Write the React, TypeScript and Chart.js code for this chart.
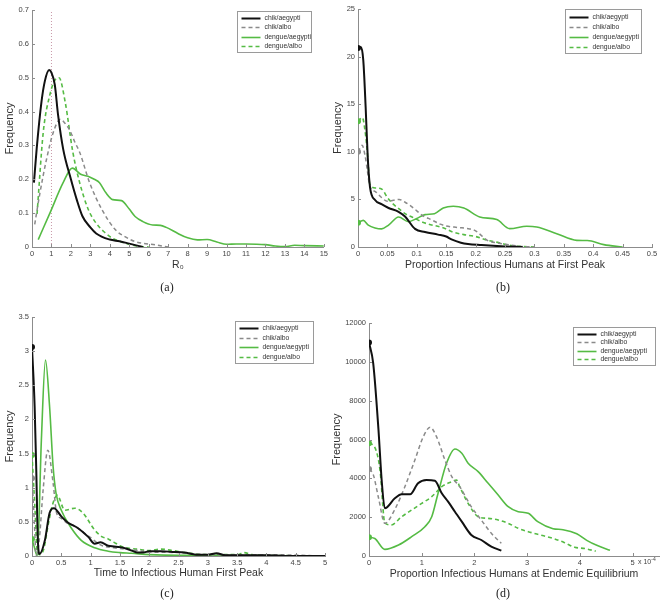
import React, { useEffect, useRef } from 'react';
import { Chart, registerables } from 'chart.js';
Chart.register(...registerables);

type P = [number, number][];

const SERIES_NAMES = ['chik/aegypti', 'chik/albo', 'dengue/aegypti', 'dengue/albo'];
const COLORS = ['#111111', '#8a8a8a', '#55bb44', '#55bb44'];
const WIDTHS = [2, 1.5, 1.6, 1.6];
const DASHES: number[][] = [[], [4, 3], [], [4, 3]];

// (a) R0
const A_CHIK_AEGYPTI: P = [[0.1, 0.19], [0.24, 0.29], [0.49, 0.43], [0.66, 0.49], [0.88, 0.523], [1.0, 0.515], [1.17, 0.48], [1.34, 0.39], [1.6, 0.29], [2.0, 0.2], [2.3, 0.14], [2.6, 0.09], [3.0, 0.058], [3.3, 0.04], [4.0, 0.022], [4.5, 0.017], [5.0, 0.01], [5.7, 0.0]];
const A_CHIK_ALBO: P = [[0.14, 0.067], [0.41, 0.16], [0.75, 0.26], [1.1, 0.34], [1.46, 0.377], [1.7, 0.365], [1.94, 0.345], [2.2, 0.31], [2.45, 0.28], [2.96, 0.19], [3.6, 0.11], [4.3, 0.05], [4.8, 0.03], [5.3, 0.016], [6.4, 0.006], [7.0, 0.0]];
const A_DENGUE_AEGYPTI: P = [[0.32, 0.022], [0.92, 0.1], [1.6, 0.19], [2.07, 0.233], [2.5, 0.215], [2.96, 0.207], [3.2, 0.2], [3.47, 0.19], [3.8, 0.16], [4.15, 0.14], [4.6, 0.137], [5.0, 0.112], [5.3, 0.09], [5.7, 0.075], [6.2, 0.065], [6.6, 0.064], [6.9, 0.058], [7.5, 0.04], [8.0, 0.027], [8.5, 0.021], [9.0, 0.022], [9.5, 0.015], [10.0, 0.008], [10.5, 0.009], [11.0, 0.009], [12.0, 0.007], [12.5, 0.003], [13.0, 0.001], [13.5, 0.005], [14.0, 0.004], [15.0, 0.003]];
const A_DENGUE_ALBO: P = [[0.26, 0.098], [0.58, 0.34], [0.92, 0.45], [1.15, 0.49], [1.39, 0.5], [1.7, 0.43], [2.1, 0.28], [2.45, 0.19], [2.9, 0.11], [3.3, 0.07], [3.7, 0.045], [4.1, 0.027], [4.6, 0.015], [5.0, 0.008], [5.5, 0.002], [6.0, 0.0]];

// (b) proportion infectious at first peak
const B_CHIK_AEGYPTI: P = [[0, 20.9], [0.005, 21.0], [0.009, 19.6], [0.013, 14.7], [0.0165, 9.5], [0.0204, 6.3], [0.029, 4.94], [0.04, 4.5], [0.052, 4.1], [0.069, 3.7], [0.08, 3.2], [0.097, 1.9], [0.114, 1.58], [0.136, 1.3], [0.15, 1.1], [0.159, 0.8], [0.175, 0.45], [0.187, 0.31], [0.21, 0.2], [0.23, 0.12], [0.25, 0.06], [0.27, 0.02], [0.28, 0.0]];
const B_CHIK_ALBO: P = [[0, 10.0], [0.007, 10.7], [0.012, 9.6], [0.016, 8.0], [0.02, 6.4], [0.03, 5.8], [0.04, 5.2], [0.05, 4.8], [0.06, 4.9], [0.07, 5.0], [0.08, 4.7], [0.09, 4.3], [0.1, 3.8], [0.11, 3.3], [0.12, 3.0], [0.13, 2.7], [0.14, 2.4], [0.15, 2.2], [0.17, 2.05], [0.19, 1.9], [0.2, 1.7], [0.21, 1.2], [0.22, 0.7], [0.24, 0.4], [0.26, 0.2], [0.28, 0.05], [0.3, 0.0]];
const B_DENGUE_AEGYPTI: P = [[0, 2.55], [0.009, 2.8], [0.0175, 2.3], [0.029, 2.0], [0.04, 1.9], [0.052, 2.3], [0.069, 3.15], [0.086, 2.66], [0.1, 3.0], [0.114, 3.4], [0.13, 3.5], [0.145, 4.1], [0.162, 4.28], [0.18, 4.1], [0.207, 3.16], [0.236, 2.88], [0.258, 1.93], [0.287, 2.18], [0.304, 2.1], [0.338, 1.4], [0.372, 0.7], [0.39, 0.68], [0.418, 0.25], [0.45, 0.0]];
const B_DENGUE_ALBO: P = [[0, 13.2], [0.0074, 13.6], [0.012, 12.2], [0.0165, 9.5], [0.02, 6.6], [0.03, 6.2], [0.04, 6.1], [0.05, 5.2], [0.06, 4.5], [0.07, 4.0], [0.08, 3.5], [0.09, 3.2], [0.1, 2.9], [0.11, 2.6], [0.12, 2.4], [0.14, 2.1], [0.15, 1.9], [0.16, 1.6], [0.18, 1.3], [0.2, 1.1], [0.22, 0.7], [0.24, 0.45], [0.26, 0.15], [0.28, 0.05], [0.3, 0.0]];

// (c) time to first peak
const C_CHIK_AEGYPTI: P = [[0, 3.06], [0.045, 2.19], [0.074, 1.21], [0.1, 0.23], [0.13, 0.03], [0.22, 0.23], [0.3, 0.63], [0.375, 0.7], [0.5, 0.58], [0.61, 0.49], [0.78, 0.41], [0.96, 0.28], [1.07, 0.18], [1.17, 0.2], [1.3, 0.15], [1.4, 0.14], [1.5, 0.13], [1.6, 0.11], [1.7, 0.08], [1.8, 0.05], [1.9, 0.05], [2.0, 0.07], [2.2, 0.07], [2.4, 0.06], [2.6, 0.05], [2.8, 0.02], [3.0, 0.02], [3.15, 0.04], [3.3, 0.01], [3.5, 0.01], [4.0, 0.01], [4.5, 0.0], [5.0, 0.0]];
const C_CHIK_ALBO: P = [[0, 1.14], [0.04, 0.5], [0.07, 0.01], [0.12, 0.2], [0.19, 0.97], [0.27, 1.55], [0.36, 1.07], [0.42, 0.63], [0.5, 0.55], [0.6, 0.48], [0.7, 0.45], [0.8, 0.4], [0.9, 0.33], [1.0, 0.27], [1.1, 0.2], [1.2, 0.15], [1.4, 0.12], [1.6, 0.1], [1.8, 0.08], [2.0, 0.06], [2.5, 0.05], [3.0, 0.02], [3.5, 0.02], [4.0, 0.02], [5.0, 0.0]];
const C_DENGUE_AEGYPTI: P = [[0, 0.25], [0.05, 0.1], [0.09, 0.0], [0.16, 1.7], [0.23, 2.87], [0.3, 2.19], [0.36, 1.31], [0.41, 0.92], [0.5, 0.67], [0.67, 0.41], [0.84, 0.23], [1.07, 0.12], [1.3, 0.07], [1.5, 0.05], [1.7, 0.04], [2.0, 0.02], [2.5, 0.01], [3.0, 0.01], [5.0, 0.0]];
const C_DENGUE_ALBO: P = [[0, 1.48], [0.05, 0.7], [0.09, 0.05], [0.13, 0.02], [0.2, 0.1], [0.27, 0.43], [0.35, 0.75], [0.43, 0.89], [0.56, 0.67], [0.73, 0.7], [0.87, 0.63], [1.07, 0.38], [1.2, 0.28], [1.3, 0.25], [1.4, 0.2], [1.5, 0.15], [1.6, 0.12], [1.8, 0.1], [2.0, 0.08], [2.2, 0.1], [2.4, 0.08], [2.6, 0.05], [3.0, 0.02], [3.5, 0.02], [3.62, 0.05], [3.75, 0.02], [4.0, 0.01], [5.0, 0.0]];

// (d) proportion infectious at endemic equilibrium (x 1e-4)
const D_CHIK_AEGYPTI: P = [[0, 11000], [0.08, 9924], [0.18, 6489], [0.24, 3914], [0.3, 2456], [0.49, 2971], [0.62, 3177], [0.78, 3177], [0.93, 3744], [1.09, 3914], [1.25, 3880], [1.38, 3230], [1.5, 2797], [1.63, 2282], [1.76, 1767], [1.94, 1082], [2.13, 824], [2.32, 481], [2.51, 275]];
const D_CHIK_ALBO: P = [[0, 4480], [0.08, 4200], [0.18, 3000], [0.3, 1684], [0.49, 2400], [0.68, 3570], [0.87, 4944], [1.03, 6145], [1.16, 6626], [1.28, 6145], [1.44, 4944], [1.57, 4086], [1.72, 3570], [1.94, 2539], [2.13, 1854], [2.32, 1169], [2.51, 654]];
const D_DENGUE_AEGYPTI: P = [[0, 962], [0.11, 900], [0.3, 343], [0.56, 566], [0.81, 996], [1.06, 1511], [1.19, 2025], [1.31, 3230], [1.47, 4775], [1.63, 5511], [1.76, 5288], [1.88, 4775], [2.07, 4343], [2.26, 3744], [2.45, 3141], [2.64, 2539], [2.83, 2282], [3.02, 2197], [3.2, 1767], [3.49, 1408], [3.68, 1356], [3.94, 1150], [4.13, 807], [4.32, 549], [4.57, 292]];
const D_DENGUE_ALBO: P = [[0, 5804], [0.11, 5600], [0.21, 4400], [0.3, 1700], [0.42, 1600], [0.62, 2025], [0.81, 2369], [1.0, 2712], [1.19, 3054], [1.38, 3570], [1.57, 3827], [1.66, 3914], [1.72, 3570], [1.88, 2712], [2.07, 2025], [2.26, 1940], [2.45, 1854], [2.64, 1684], [2.83, 1426], [3.02, 1254], [3.2, 1117], [3.5, 900], [3.7, 700], [3.9, 450], [4.1, 380], [4.3, 250]];

const FONT = '"Liberation Sans", Arial, Helvetica, sans-serif';

interface Panel {
  left: number; top: number; width: number; height: number;
  yW: number; xH: number; padTop: number; padRight: number;
  xMin: number; xMax: number; xStep: number; yMax: number; yStep: number;
  xTitle: string; xTitlePad: number; yTitlePad: number;
  series: P[]; markers: boolean; vline?: number; integerXTicks?: boolean;
  legend: { right: number; top: number; width: number; height: number };
}

const PANELS: Panel[] = [
  { left: 0, top: 0, width: 330, height: 300, yW: 32, xH: 53, padTop: 10, padRight: 4,
    xMin: 0, xMax: 15, xStep: 1, yMax: 0.7, yStep: 0.1, xTitle: 'R\u2080', xTitlePad: 29, yTitlePad: 3,
    series: [A_CHIK_AEGYPTI, A_CHIK_ALBO, A_DENGUE_AEGYPTI, A_DENGUE_ALBO], markers: false, vline: 1,
    legend: { right: 13, top: 1, width: 74, height: 41 } },
  { left: 330, top: 0, width: 335, height: 300, yW: 28, xH: 53, padTop: 9, padRight: 13,
    xMin: 0, xMax: 0.5, xStep: 0.05, yMax: 25, yStep: 5, xTitle: 'Proportion Infectious Humans at First Peak', xTitlePad: 29, yTitlePad: 1,
    series: [B_CHIK_AEGYPTI, B_CHIK_ALBO, B_DENGUE_AEGYPTI, B_DENGUE_ALBO], markers: true,
    legend: { right: 11, top: 0, width: 76, height: 44 } },
  { left: 0, top: 300, width: 330, height: 306, yW: 32, xH: 50, padTop: 17, padRight: 5,
    xMin: 0, xMax: 5, xStep: 0.5, yMax: 3.5, yStep: 0.5, xTitle: 'Time to Infectious Human First Peak', xTitlePad: 27, yTitlePad: 3,
    series: [C_CHIK_AEGYPTI, C_CHIK_ALBO, C_DENGUE_AEGYPTI, C_DENGUE_ALBO], markers: true,
    legend: { right: 12, top: 4, width: 78, height: 42 } },
  { left: 330, top: 300, width: 335, height: 306, yW: 39, xH: 50, padTop: 23, padRight: 6,
    xMin: 0, xMax: 5.5, xStep: 1, yMax: 12000, yStep: 2000, xTitle: 'Proportion Infectious Humans at Endemic Equilibrium', xTitlePad: 26, yTitlePad: 0,
    series: [D_CHIK_AEGYPTI, D_CHIK_ALBO, D_DENGUE_AEGYPTI, D_DENGUE_ALBO], markers: true, integerXTicks: true,
    legend: { right: 4, top: 4, width: 82, height: 38 } },
];

const CAPTIONS = [
  { text: '(a)', x: 167, y: 287 },
  { text: '(b)', x: 503, y: 287 },
  { text: '(c)', x: 167, y: 593 },
  { text: '(d)', x: 503, y: 593 },
];

const fmt = (v: number | string) => String(Number(Number(v).toFixed(4)));

const inTicks = {
  id: 'inTicks',
  afterDraw(chart: any) {
    const { ctx, chartArea } = chart;
    const xs = chart.scales.x, ys = chart.scales.y;
    ctx.save();
    ctx.strokeStyle = '#8c8c8c';
    ctx.lineWidth = 1;
    ctx.setLineDash([]);
    ctx.beginPath();
    xs.ticks.forEach((t: any) => {
      const px = Math.round(xs.getPixelForValue(t.value)) + 0.5;
      ctx.moveTo(px, chartArea.bottom);
      ctx.lineTo(px, chartArea.bottom - 3);
    });
    ys.ticks.forEach((t: any) => {
      const py = Math.round(ys.getPixelForValue(t.value)) + 0.5;
      ctx.moveTo(chartArea.left, py);
      ctx.lineTo(chartArea.left + 3, py);
    });
    ctx.stroke();
    ctx.restore();
  },
};

const boxLegend = {
  id: 'boxLegend',
  afterDraw(chart: any, _args: any, o: any) {
    const { ctx, chartArea } = chart;
    const x0 = Math.round(chartArea.right - o.right - o.width) + 0.5;
    const y0 = Math.round(chartArea.top + o.top) + 0.5;
    ctx.save();
    ctx.fillStyle = '#ffffff';
    ctx.fillRect(x0, y0, o.width, o.height);
    ctx.strokeStyle = '#9a9a9a';
    ctx.lineWidth = 1;
    ctx.setLineDash([]);
    ctx.strokeRect(x0, y0, o.width, o.height);
    const ds = chart.data.datasets.filter((d: any) => !d.skipLegend);
    const rowH = (o.height - 4) / ds.length;
    ds.forEach((d: any, i: number) => {
      const cy = Math.round(y0 + 2 + rowH * (i + 0.5)) + 0.5;
      ctx.strokeStyle = d.borderColor;
      ctx.lineWidth = d.borderWidth;
      ctx.setLineDash(d.borderDash || []);
      ctx.beginPath();
      ctx.moveTo(x0 + 4, cy);
      ctx.lineTo(x0 + 23, cy);
      ctx.stroke();
      ctx.fillStyle = '#333333';
      ctx.font = `6.8px ${FONT}`;
      ctx.textBaseline = 'middle';
      ctx.textAlign = 'left';
      ctx.fillText(d.label, x0 + 27, cy);
    });
    ctx.restore();
  },
};

function PanelChart({ p }: { p: Panel }) {
  const ref = useRef<HTMLCanvasElement>(null);
  useEffect(() => {
    if (!ref.current) return;
    const datasets: any[] = p.series.map((d, i) => ({
      label: SERIES_NAMES[i],
      data: d.map(([x, y]) => ({ x, y })),
      borderColor: COLORS[i],
      backgroundColor: COLORS[i],
      borderWidth: WIDTHS[i],
      borderDash: DASHES[i],
      pointRadius: p.markers ? d.map((_, j) => (j === 0 ? 3 : 0)) : 0,
      pointBorderWidth: 0,
      pointHoverRadius: 0,
      cubicInterpolationMode: 'monotone',
      fill: false,
    }));
    if (p.vline !== undefined) {
      datasets.push({
        label: '',
        skipLegend: true,
        data: [{ x: p.vline, y: 0 }, { x: p.vline, y: p.yMax }],
        borderColor: '#c898a8',
        borderWidth: 1,
        borderDash: [1, 2],
        pointRadius: 0,
        fill: false,
      });
    }
    const axisColor = '#8c8c8c';
    const chart = new Chart(ref.current, {
      type: 'line',
      data: { datasets },
      plugins: [inTicks, boxLegend],
      options: {
        responsive: false,
        animation: false,
        devicePixelRatio: 1,
        layout: { padding: { top: p.padTop, right: p.padRight, left: 0, bottom: 0 } },
        plugins: {
          legend: { display: false },
          tooltip: { enabled: false },
          boxLegend: p.legend,
        } as any,
        scales: {
          x: {
            type: 'linear',
            min: p.xMin,
            max: p.xMax,
            grid: { display: false, drawTicks: false },
            border: { display: true, color: axisColor },
            ticks: {
              stepSize: p.xStep,
              autoSkip: false,
              maxRotation: 0,
              padding: 2,
              color: '#444',
              font: { size: 7.5, family: FONT },
              callback: (v: any) => fmt(v),
            },
            afterBuildTicks: (s: any) => {
              if (p.integerXTicks) s.ticks = s.ticks.filter((t: any) => Number.isInteger(t.value));
            },
            title: {
              display: true,
              text: p.xTitle,
              color: '#333',
              font: { size: 10.5, family: FONT },
              padding: { top: 0, bottom: p.xTitlePad },
            },
            afterFit: (s: any) => { s.height = p.xH; },
          },
          y: {
            type: 'linear',
            min: 0,
            max: p.yMax,
            grid: { display: false, drawTicks: false },
            border: { display: true, color: axisColor },
            ticks: {
              stepSize: p.yStep,
              padding: 3,
              color: '#444',
              font: { size: 7.5, family: FONT },
              callback: (v: any) => fmt(v),
            },
            title: {
              display: true,
              text: 'Frequency',
              color: '#333',
              font: { size: 11, family: FONT },
              padding: { top: p.yTitlePad, bottom: 0 },
            },
            afterFit: (s: any) => { s.width = p.yW; },
          },
        },
      } as any,
    });
    return () => chart.destroy();
  }, []);
  return (
    <canvas
      ref={ref}
      width={p.width}
      height={p.height}
      style={{ position: 'absolute', left: p.left, top: p.top, width: p.width, height: p.height }}
    />
  );
}

export default function App() {
  return (
    <div style={{ position: 'absolute', left: 0, top: 0, width: 665, height: 606, background: '#fff', overflow: 'hidden' }}>
      {PANELS.map((p, i) => (
        <PanelChart key={i} p={p} />
      ))}
      {CAPTIONS.map((c) => (
        <div
          key={c.text}
          style={{
            position: 'absolute', left: c.x - 20, width: 40, top: c.y - 8, textAlign: 'center',
            fontFamily: '"Liberation Serif", "DejaVu Serif", serif', fontSize: 12, color: '#222', lineHeight: '16px',
          }}
        >
          {c.text}
        </div>
      ))}
      <div
        style={{
          position: 'absolute', left: 638, top: 556, fontFamily: FONT, fontSize: 7, color: '#444', whiteSpace: 'nowrap',
        }}
      >
        x 10<sup style={{ fontSize: 5 }}>-4</sup>
      </div>
    </div>
  );
}
